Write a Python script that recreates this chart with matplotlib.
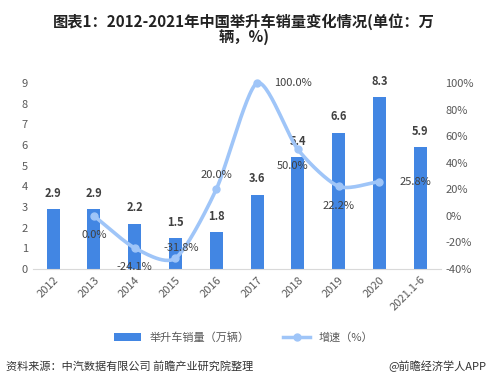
import numpy as np
import matplotlib
matplotlib.use("Agg")
from matplotlib import pyplot as plt

plt.rcParams['font.family'] = ['Noto Sans CJK SC', 'DejaVu Sans']

years = ['2012', '2013', '2014', '2015', '2016', '2017', '2018', '2019', '2020', '2021.1-6']
sales = [2.9, 2.9, 2.2, 1.5, 1.8, 3.6, 5.4, 6.6, 8.3, 5.9]
growth_years = ['2013', '2014', '2015', '2016', '2017', '2018', '2019', '2020']
growth = [0.0, -24.1, -31.8, 20.0, 100.0, 50.0, 22.2, 25.8]
# label offsets (points) for the growth labels
growth_offsets = [(0, -14), (0, -14), (4, 7), (0, 10), (26, 0), (-4, -12), (0, -14), (26, 0)]

bar_color = '#4286E3'
line_color = '#9FC5F8'
tick_color = '#595959'


def smooth(x, y, n=30, tension=0.75):
    """cardinal spline through the points, like the office chart 'smoothed line'"""
    x = np.asarray(x, float)
    y = np.asarray(y, float)
    px = np.concatenate([[2*x[0]-x[1]], x, [2*x[-1]-x[-2]]])
    py = np.concatenate([[2*y[0]-y[1]], y, [2*y[-1]-y[-2]]])
    t = np.linspace(0, 1, n)
    h00 = 2*t**3 - 3*t**2 + 1
    h10 = t**3 - 2*t**2 + t
    h01 = -2*t**3 + 3*t**2
    h11 = t**3 - t**2
    xs, ys = [], []
    for i in range(1, len(px)-2):
        for p, out in ((px, xs), (py, ys)):
            m1 = tension*(p[i+1] - p[i-1])/2
            m2 = tension*(p[i+2] - p[i])/2
            out.extend(h00*p[i] + h10*m1 + h01*p[i+1] + h11*m2)
    return np.array(xs), np.array(ys)


fig = plt.figure(figsize=(4.88, 3.86), dpi=100)
ax = fig.add_axes([0.067, 0.303, 0.836, 0.482])
ax2 = ax.twinx()

x = np.arange(len(years))
bars = ax.bar(x, sales, width=0.32, color=bar_color, label='举升车销量（万辆）', zorder=2)
for xi, v in zip(x, sales):
    ax.text(xi, v + 0.45, '%.1f' % v, ha='center', va='bottom', fontsize=8,
            fontweight='bold', color='#404040')

gx = np.array([years.index(g) for g in growth_years])
sx, sy = smooth(gx, growth)
ax2.plot(sx, sy, color=line_color, lw=2.6, solid_capstyle='round', zorder=3, clip_on=False)
ax2.plot(gx, growth, 'o', color=line_color, ms=5, zorder=4, clip_on=False)
ax2.plot([], [], '-o', color=line_color, lw=2.5, ms=5, label='增速（%）')
for xi, v, off in zip(gx, growth, growth_offsets):
    ax2.annotate('%.1f%%' % v, (xi, v), xytext=off, textcoords='offset points',
                 ha='center', va='center', fontsize=8, color='#404040')

ax.set_xlim(-0.5, len(years) - 0.5)
ax.set_ylim(0, 9)
ax.set_yticks(range(0, 10))
ax2.set_ylim(-40, 100)
ax2.set_yticks(range(-40, 101, 20))
ax2.set_yticklabels(['%d%%' % v for v in range(-40, 101, 20)])

ax.set_xticks(x)
ax.set_xticklabels(years, rotation=45, ha='right', rotation_mode='anchor')
for a in (ax, ax2):
    for s in ['top', 'right', 'left']:
        a.spines[s].set_visible(False)
    a.tick_params(length=0, labelsize=8, colors=tick_color)
ax.spines['bottom'].set_color('#D9D9D9')
ax2.spines['bottom'].set_visible(False)
ax.tick_params(axis='x', pad=4)

h1, l1 = ax.get_legend_handles_labels()
h2, l2 = ax2.get_legend_handles_labels()
fig.legend(h1 + h2, l1 + l2, loc='center', bbox_to_anchor=(0.5, 0.125), ncol=2,
           frameon=False, fontsize=8, labelcolor=tick_color, handlelength=2.4,
           columnspacing=3)

fig.text(0.5, 0.925, '图表1：2012-2021年中国举升车销量变化情况(单位：万\n辆，%)',
         ha='center', va='center', fontsize=11, fontweight='bold', color='#222222',
         linespacing=0.95)
fig.text(0.012, 0.05, '资料来源：中汽数据有限公司 前瞻产业研究院整理', ha='left', va='center',
         fontsize=8, color='#333333')
fig.text(0.997, 0.05, '@前瞻经济学人APP', ha='right', va='center', fontsize=8, color='#333333')

fig.savefig('out.png', dpi=100)
